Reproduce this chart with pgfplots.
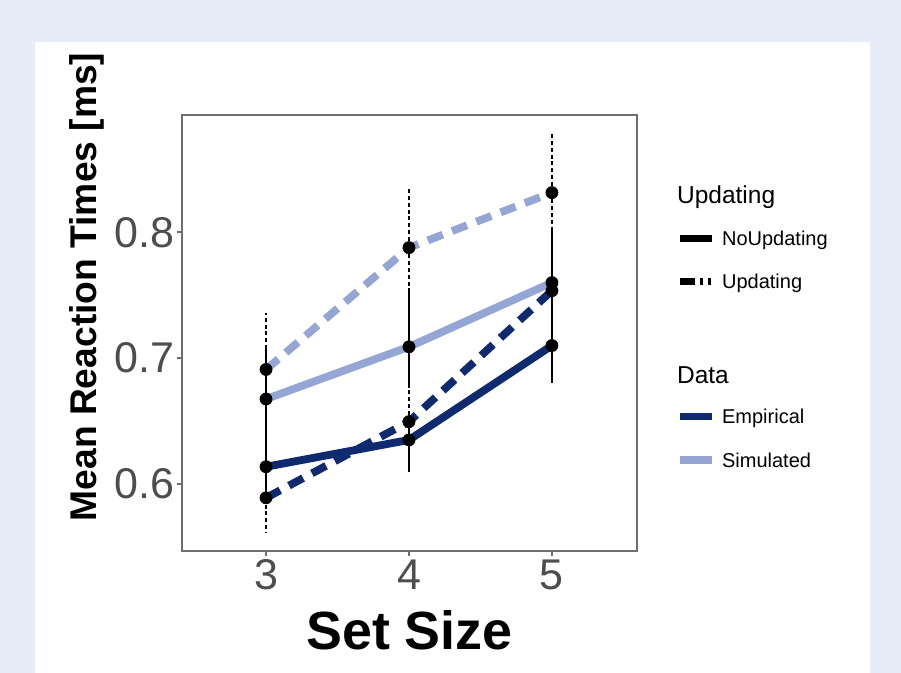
\documentclass[border=0pt]{standalone}
\usepackage{pgfplots}
\pgfplotsset{compat=1.18}
\usepackage{fontspec}
\setmainfont{Liberation Sans}
\definecolor{bgc}{HTML}{E8ECF8}
\definecolor{dark}{HTML}{0F2A6E}
\definecolor{light}{HTML}{95A6D4}
\definecolor{tickgray}{HTML}{4D4D4D}
\definecolor{framegray}{HTML}{6E6E6E}
\begin{document}
\begin{tikzpicture}[x=0.5pt,y=0.5pt]
\fill[bgc] (0,0) rectangle (901,673);
\fill[white] (35,0) rectangle (870,631);
\begin{axis}[
  at={(90.85pt,61.15pt)}, anchor=south west,
  scale only axis, width=227.5pt, height=217.85pt,
  xmin=2.41, xmax=5.593, ymin=0.547, ymax=0.8932,
  xtick={3,4,5}, ytick={0.6,0.7,0.8},
  axis line style={framegray, line width=1pt},
  tick style={framegray, line width=1pt},
  tick align=outside, major tick length=2.5pt,
  xtick pos=left, ytick pos=left,
  /pgf/number format/assume math mode=true,
  ticklabel style={font=\fontsize{21.5}{24}\selectfont, text=tickgray},
  yticklabel style={/tikz/xshift=2.5pt, /pgf/number format/.cd, fixed, precision=1, fixed zerofill},
  xticklabel style={/tikz/yshift=1.5pt},
]
% lines
\addplot[dark, line width=3.9pt] coordinates {(3,0.6137) (4,0.635) (5,0.710)};
\addplot[dark, line width=3.9pt, dash pattern=on 8pt off 5pt] coordinates {(3,0.589) (4,0.6495) (5,0.7536)};
\addplot[light, line width=3.9pt] coordinates {(3,0.6675) (4,0.709) (5,0.760)};
\addplot[light, line width=3.9pt, dash pattern=on 8pt off 5pt] coordinates {(3,0.691) (4,0.7878) (5,0.8315)};
% points with error bars: NoUpdating (solid)
\addplot[only marks, mark=*, mark size=3pt, black,
  error bars/.cd, y dir=both, y explicit, error mark=none,
  error bar style={line width=1.2pt, solid, black}]
  coordinates {(3,0.6675) += (0,0.0415) -= (0,0.0415)
               (4,0.709) += (0,0.0465) -= (0,0.033)
               (5,0.760) += (0,0.042) -= (0,0.042)};
\addplot[only marks, mark=*, mark size=3pt, black,
  error bars/.cd, y dir=both, y explicit, error mark=none,
  error bar style={line width=1.2pt, solid, black}]
  coordinates {(3,0.6137) += (0,0.025) -= (0,0.025)
               (4,0.635) += (0,0.020) -= (0,0.0253)
               (5,0.710) += (0,0.030) -= (0,0.030)};
% Updating (dotted)
\addplot[only marks, mark=*, mark size=3pt, black,
  error bars/.cd, y dir=both, y explicit, error mark=none,
  error bar style={line width=1.2pt, black, dash pattern=on 2pt off 1.4pt}]
  coordinates {(3,0.691) += (0,0.0445) -= (0,0.045)
               (4,0.7878) += (0,0.047) -= (0,0.047)
               (5,0.8315) += (0,0.047) -= (0,0.047)};
\addplot[only marks, mark=*, mark size=3pt, black,
  error bars/.cd, y dir=both, y explicit, error mark=none,
  error bar style={line width=1.2pt, black, dash pattern=on 2pt off 1.4pt}]
  coordinates {(3,0.589) += (0,0.028) -= (0,0.0283)
               (4,0.6495) += (0,0.028) -= (0,0.028)
               (5,0.7536) += (0,0.030) -= (0,0.030)};
\end{axis}
% axis titles
\node[rotate=90, font=\bfseries\fontsize{18.6}{20}\selectfont, anchor=center, inner sep=0] at (87,386) {Mean Reaction Times [ms]};
\node[anchor=base, font=\bfseries\fontsize{26.9}{30}\selectfont, inner sep=0] at (409.5,23) {Set Size};
% legend
\node[anchor=base west, inner sep=0, font=\fontsize{12.25}{14}\selectfont] at (676.7,469.7) {Updating};
\draw[black, line width=3.7pt] (680,434.7) -- (711.7,434.7);
\node[anchor=base west, inner sep=0, font=\fontsize{10}{12}\selectfont] at (721.7,427.5) {NoUpdating};
\draw[black, line width=3.7pt, dash pattern=on 7.5pt off 2.5pt on 1.6pt off 2.5pt on 1.4pt off 5pt] (680,391.3) -- (711.7,391.3);
\node[anchor=base west, inner sep=0, font=\fontsize{10}{12}\selectfont] at (721.7,384.2) {Updating};
\node[anchor=base west, inner sep=0, font=\fontsize{12.25}{14}\selectfont] at (676.7,289.7) {Data};
\draw[dark, line width=3.7pt] (680,256.3) -- (711.7,256.3);
\node[anchor=base west, inner sep=0, font=\fontsize{10}{12}\selectfont] at (721.7,249.2) {Empirical};
\draw[light, line width=3.7pt] (680,213) -- (711.7,213);
\node[anchor=base west, inner sep=0, font=\fontsize{10}{12}\selectfont] at (721.7,205.8) {Simulated};
\end{tikzpicture}
\end{document}
